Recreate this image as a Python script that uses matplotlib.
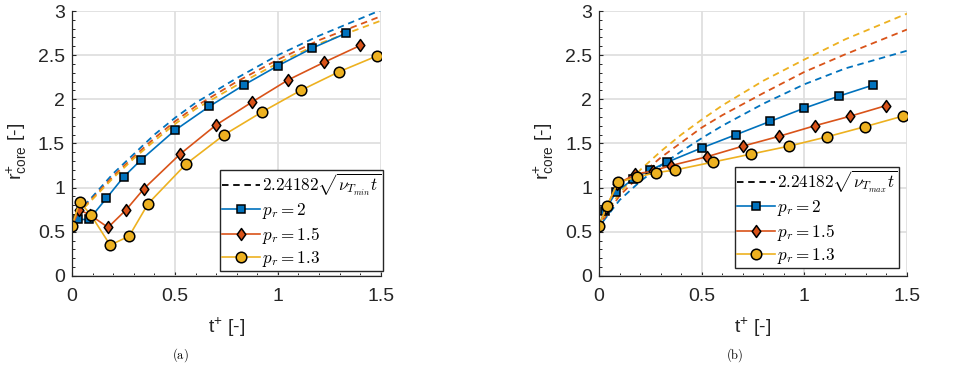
import matplotlib
matplotlib.use('Agg')
import matplotlib.pyplot as plt
from matplotlib.ticker import MultipleLocator
from matplotlib.path import Path

plt.rcParams['font.family'] = ['Liberation Sans', 'DejaVu Sans']
plt.rcParams['mathtext.fontset'] = 'custom'
plt.rcParams['mathtext.rm'] = 'Liberation Sans'
plt.rcParams['mathtext.it'] = 'Liberation Sans:italic'
plt.rcParams['mathtext.bf'] = 'Liberation Sans:bold'

# simulation data (left: nu_Tmin, right: nu_Tmax)
t_p2 = [0, 0.028, 0.083, 0.167, 0.25, 0.333, 0.5, 0.667, 0.833, 1.0, 1.167, 1.333]
t_p15 = [0, 0.035, 0.088, 0.175, 0.263, 0.35, 0.525, 0.70, 0.875, 1.05, 1.225, 1.40]
t_p13 = [0, 0.037, 0.092, 0.185, 0.277, 0.37, 0.555, 0.74, 0.925, 1.11, 1.295, 1.48]

r_min_p2 = [0.57, 0.64, 0.64, 0.88, 1.12, 1.31, 1.65, 1.92, 2.16, 2.38, 2.58, 2.75]
r_min_p15 = [0.57, 0.75, 0.69, 0.55, 0.75, 0.99, 1.38, 1.71, 1.97, 2.22, 2.42, 2.61]
r_min_p13 = [0.57, 0.84, 0.69, 0.35, 0.45, 0.82, 1.27, 1.60, 1.86, 2.10, 2.31, 2.49]

r_max_p2 = [0.57, 0.74, 0.95, 1.10, 1.20, 1.29, 1.45, 1.60, 1.75, 1.90, 2.035, 2.16]
r_max_p15 = [0.57, 0.77, 1.04, 1.15, 1.19, 1.25, 1.35, 1.47, 1.58, 1.70, 1.81, 1.93]
r_max_p13 = [0.57, 0.79, 1.06, 1.12, 1.17, 1.20, 1.29, 1.38, 1.47, 1.575, 1.69, 1.81]

# analytic curves
t_fit = [0.02, 0.1, 0.2, 0.3, 0.4, 0.5, 0.6, 0.8, 1.0, 1.2, 1.5]
fit_min_p2 = [0.70, 0.90, 1.16, 1.38, 1.60, 1.79, 1.96, 2.24, 2.50, 2.72, 3.01]
fit_min_p15 = [0.69, 0.88, 1.13, 1.35, 1.56, 1.75, 1.92, 2.20, 2.45, 2.67, 2.94]
fit_min_p13 = [0.68, 0.87, 1.11, 1.33, 1.53, 1.72, 1.89, 2.16, 2.41, 2.63, 2.89]

fit_max_p2 = [0.62, 0.86, 1.07, 1.25, 1.41, 1.56, 1.70, 1.95, 2.17, 2.35, 2.55]
fit_max_p15 = [0.64, 0.91, 1.14, 1.34, 1.51, 1.68, 1.82, 2.07, 2.31, 2.51, 2.79]
fit_max_p13 = [0.66, 0.94, 1.20, 1.41, 1.60, 1.77, 1.93, 2.21, 2.45, 2.68, 2.97]

labels = [r'$p_r = 2$', r'$p_r = 1.5$', r'$p_r = 1.3$']
fit_labels = [r'$2.24182\sqrt{\nu_{T_{min}}t}$', r'$2.24182\sqrt{\nu_{T_{max}}t}$']
colors = ['#0072BD', '#D95319', '#EDB120']

# matlab-like diamond (wider than 'd')
diamond = Path([(0, 1), (0.72, 0), (0, -1), (-0.72, 0), (0, 1)],
			   [Path.MOVETO, Path.LINETO, Path.LINETO, Path.LINETO, Path.CLOSEPOLY])
markers = [('s', 5.6), (diamond, 8.6), ('o', 7.6)]


def draw(ax, t_list, r_list, fits, fit_label, legend_anchor):
	for fit, color in zip(fits, colors):
		ax.plot(t_fit, fit, color=color, lw=1.3, dashes=(3.6, 2.6))
	handles = []
	dash_handle, = ax.plot([], [], color='k', lw=1.3, dashes=(3.6, 2.6), label=fit_label)
	handles.append(dash_handle)
	for t, r, color, (mk, ms), lab in zip(t_list, r_list, colors, markers, labels):
		h, = ax.plot(t, r, color=color, lw=1.2, marker=mk, markersize=ms,
					 markerfacecolor=color, markeredgecolor='k', markeredgewidth=1.1, label=lab)
		handles.append(h)

	ax.set_xlim(0, 1.5)
	ax.set_ylim(0, 3)
	ax.xaxis.set_major_locator(MultipleLocator(0.5))
	ax.yaxis.set_major_locator(MultipleLocator(0.5))
	ax.xaxis.set_minor_locator(MultipleLocator(0.1))
	ax.yaxis.set_minor_locator(MultipleLocator(0.1))
	ax.xaxis.set_major_formatter(plt.FuncFormatter(lambda v, p: '{:g}'.format(v)))
	ax.yaxis.set_major_formatter(plt.FuncFormatter(lambda v, p: '{:g}'.format(v)))
	ax.grid(True, which='major', color='#dfdfdf', lw=1.3)
	ax.set_axisbelow(True)
	for side in ['top', 'right']:
		ax.spines[side].set_visible(False)
	for side in ['left', 'bottom']:
		ax.spines[side].set_color('#262626')
		ax.spines[side].set_linewidth(0.9)
	ax.tick_params(which='both', direction='in', color='#262626', labelcolor='#262626', labelsize=14)
	ax.tick_params(which='major', length=3.2, width=0.8)
	ax.tick_params(which='minor', length=2.0, width=0.7)
	ax.tick_params(axis='x', pad=8.5)
	ax.tick_params(axis='y', pad=5)

	ax.set_xlabel(r't$^{+}$ [-]', fontsize=14, color='#262626')
	ax.xaxis.set_label_coords(0.5, -0.15)
	ax.set_ylabel(r'r$^{+}_{\mathrm{core}}$ [-]', fontsize=14, color='#262626')
	ax.yaxis.set_label_coords(-0.14, 0.47)

	leg = ax.legend(handles=handles, loc='lower right', bbox_to_anchor=legend_anchor,
					prop={'size': 12.3, 'math_fontfamily': 'cm'}, frameon=True, fancybox=False,
					framealpha=1, edgecolor='#262626', handlelength=2.2, handletextpad=0.12,
					labelspacing=0.2, borderpad=0.12, borderaxespad=0.0)
	leg.get_frame().set_linewidth(1.0)


fig = plt.figure(figsize=(9.71, 3.86), dpi=100)
ax1 = fig.add_axes([0.0742, 0.285, 0.318, 0.6865])
ax2 = fig.add_axes([0.617, 0.285, 0.317, 0.6865])

draw(ax1, [t_p2, t_p15, t_p13], [r_min_p2, r_min_p15, r_min_p13],
	 [fit_min_p2, fit_min_p15, fit_min_p13], fit_labels[0], (1.007, 0.018))
draw(ax2, [t_p2, t_p15, t_p13], [r_max_p2, r_max_p15, r_max_p13],
	 [fit_max_p2, fit_max_p15, fit_max_p13], fit_labels[1], (0.975, 0.03))

fig.text(0.1855, 0.08, r'$\mathrm{(a)}$', ha='center', va='center', fontsize=9, math_fontfamily='cm')
fig.text(0.757, 0.08, r'$\mathrm{(b)}$', ha='center', va='center', fontsize=9, math_fontfamily='cm')

fig.savefig('out.png', dpi=100)
